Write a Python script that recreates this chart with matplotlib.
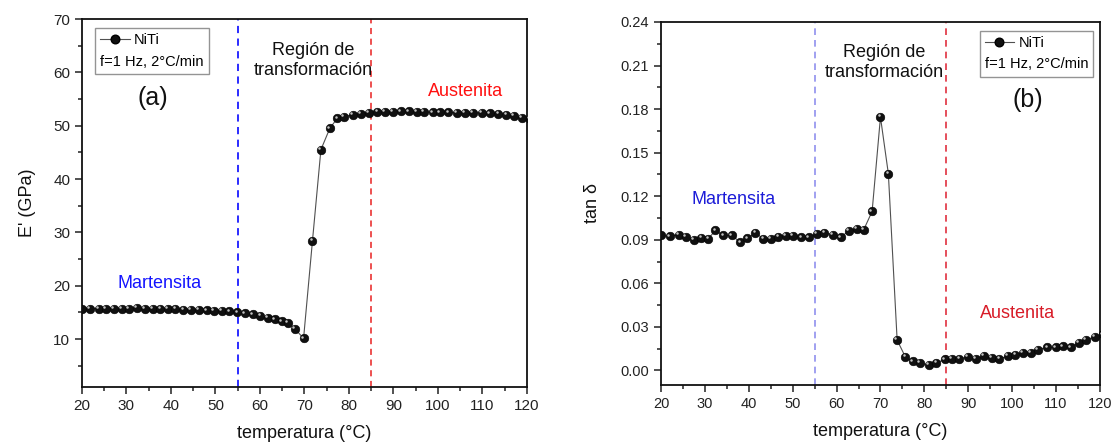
import matplotlib
matplotlib.use("Agg")
import matplotlib.pyplot as plt
from matplotlib.lines import Line2D
from matplotlib.ticker import MultipleLocator, FormatStrFormatter
from matplotlib.transforms import ScaledTranslation

plt.rcParams['font.family'] = ['Liberation Sans', 'DejaVu Sans']

# ---------------- data ----------------
temp_E = [20.0, 21.8, 23.8, 25.4, 27.1, 28.9, 30.6, 32.4, 34.2, 35.9,
          37.6, 39.3, 41.0, 42.8, 44.5, 46.2, 48.0, 49.7, 51.5, 53.1,
          54.9, 56.6, 58.4, 60.1, 61.7, 63.4, 64.9, 66.3, 67.9, 69.8,
          71.8, 73.7, 75.7, 77.4, 78.9, 80.8, 82.7, 84.5, 86.4, 88.1,
          89.8, 91.6, 93.5, 95.2, 96.9, 98.8, 100.4, 102.3, 104.2, 106.1,
          107.9, 109.8, 111.7, 113.6, 115.4, 117.1, 118.8, 120.6]
E_gpa = [15.6, 15.7, 15.7, 15.7, 15.7, 15.7, 15.7, 15.8, 15.7, 15.7,
         15.7, 15.6, 15.6, 15.5, 15.5, 15.5, 15.4, 15.3, 15.3, 15.2,
         15.0, 14.8, 14.6, 14.3, 14.0, 13.7, 13.3, 13.0, 11.9, 10.1,
         28.4, 45.5, 49.5, 51.4, 51.7, 52.0, 52.2, 52.4, 52.6, 52.6,
         52.6, 52.7, 52.7, 52.6, 52.6, 52.5, 52.5, 52.5, 52.4, 52.4,
         52.4, 52.4, 52.3, 52.2, 52.0, 51.8, 51.5, 51.3]

temp_tan = [20.0, 22.0, 24.1, 25.6, 27.5, 29.2, 30.8, 32.4, 34.2, 36.1,
            38.1, 39.7, 41.5, 43.3, 45.1, 46.7, 48.4, 50.1, 52.0, 53.7,
            55.5, 57.2, 59.1, 61.0, 62.8, 64.6, 66.2, 68.1, 70.0, 71.8,
            73.8, 75.7, 77.4, 79.0, 81.0, 82.7, 84.7, 86.3, 88.0, 89.9,
            91.7, 93.5, 95.3, 97.1, 99.0, 100.7, 102.5, 104.3, 105.9, 108.0,
            110.0, 111.6, 113.3, 115.2, 116.8, 118.8, 120.6]
tan_delta = [0.0930, 0.0924, 0.0936, 0.0920, 0.0901, 0.0913, 0.0908, 0.0965, 0.0930, 0.0930,
             0.0883, 0.0910, 0.0947, 0.0908, 0.0908, 0.0920, 0.0929, 0.0929, 0.0918, 0.0918,
             0.0940, 0.0947, 0.0936, 0.0918, 0.0963, 0.0975, 0.0970, 0.1096, 0.1745, 0.1355,
             0.0209, 0.0092, 0.0064, 0.0053, 0.0037, 0.0053, 0.0076, 0.0080, 0.0080, 0.0092,
             0.0080, 0.0099, 0.0087, 0.0080, 0.0099, 0.0110, 0.0122, 0.0122, 0.0144, 0.0160,
             0.0160, 0.0167, 0.0160, 0.0190, 0.0209, 0.0232, 0.0250]

x_ticks = [20, 30, 40, 50, 60, 70, 80, 90, 100, 110, 120]
E_ticks = [10, 20, 30, 40, 50, 60, 70]
tan_ticks = [0.00, 0.03, 0.06, 0.09, 0.12, 0.15, 0.18, 0.21, 0.24]
region_bounds = [55, 85]
series_label = "NiTi"
cond_label = "f=1 Hz, 2°C/min"

# ---------------- figure ----------------
fig = plt.figure(figsize=(11.15, 4.45), dpi=100)
fig.patch.set_facecolor('white')
axL = fig.add_axes([0.0735, 0.1303, 0.3991, 0.8270])
axR = fig.add_axes([0.5928, 0.1348, 0.3937, 0.8158])

BALL = '#101010'
LINE = '#505050'
MS = 6.2


def draw_series(ax, x, y):
    ax.plot(x, y, '-', color=LINE, lw=0.8, zorder=3)
    ax.plot(x, y, 'o', ms=MS, mfc=BALL, mec='#000000', mew=0.4, zorder=4)
    hl = ax.transData + ScaledTranslation(-1.2 / 72, 1.2 / 72, fig.dpi_scale_trans)
    ax.plot(x, y, 'o', ms=1.8, mfc='#d8d8d8', mec='none', alpha=0.9,
            transform=hl, zorder=5)


def style_axes(ax, lsize):
    for s in ax.spines.values():
        s.set_linewidth(1.3)
        s.set_color('#111111')
    ax.tick_params(which='both', direction='out', top=False, right=False,
                   labelsize=lsize, labelcolor='#222222', width=1.1, color='#222222')
    ax.tick_params(which='major', length=5)
    ax.tick_params(which='minor', length=3)
    ax.set_xlim(20, 120)
    ax.set_xticks(x_ticks)
    ax.xaxis.set_minor_locator(MultipleLocator(5))
    ax.set_xlabel('temperatura (°C)', fontsize=13, labelpad=9, color='#111111')


def make_legend(ax, loc, anchor):
    h = Line2D([], [], color=LINE, lw=0.8, marker='o', ms=MS, mfc=BALL, mec='#000000')
    leg = ax.legend([h], [series_label], title=cond_label, loc=loc,
                    bbox_to_anchor=anchor, fontsize=10.5, title_fontsize=10.5,
                    frameon=True, fancybox=False, edgecolor='#7a7a7a',
                    handlelength=2.0, handletextpad=0.3, borderpad=0.35,
                    borderaxespad=0.0)
    leg.get_frame().set_linewidth(1.0)
    leg._legend_box._children = leg._legend_box._children[::-1]
    leg.set_alignment('left')
    return leg


# ---------------- left panel ----------------
draw_series(axL, temp_E, E_gpa)
style_axes(axL, 11)
axL.set_ylim(1, 70)
axL.set_yticks(E_ticks)
axL.yaxis.set_minor_locator(MultipleLocator(5))
axL.set_ylabel("E' (GPa)", fontsize=13, labelpad=12, color='#111111')
axL.axvline(region_bounds[0], color='#1a1aff', ls=(0, (4, 3)), lw=1.3, zorder=2)
axL.axvline(region_bounds[1], color='#e82020', ls=(0, (4, 3)), lw=1.1, zorder=2)
axL.text(71.9, 62.2, 'Región de\ntransformación', ha='center', va='center',
         fontsize=13, color='#111111', linespacing=1.25)
axL.text(36.0, 55.2, '(a)', ha='center', va='center', fontsize=18, color='#111111')
axL.text(37.5, 20.5, 'Martensita', ha='center', va='center', fontsize=13, color='#1414ff')
axL.text(106.1, 56.4, 'Austenita', ha='center', va='center', fontsize=13, color='#ff1010')
make_legend(axL, 'upper left', (0.03, 0.975))

# ---------------- right panel ----------------
draw_series(axR, temp_tan, tan_delta)
style_axes(axR, 10.5)
axR.set_ylim(-0.01, 0.24)
axR.set_yticks(tan_ticks)
axR.yaxis.set_major_formatter(FormatStrFormatter('%.2f'))
axR.yaxis.set_minor_locator(MultipleLocator(0.015))
axR.set_ylabel('tan δ', fontsize=13, labelpad=14, color='#111111')
axR.axvline(region_bounds[0], color='#9090ee', ls=(0, (4, 3)), lw=1.2, zorder=2)
axR.axvline(region_bounds[1], color='#e03040', ls=(0, (4, 3)), lw=1.2, zorder=2)
axR.text(70.9, 0.2122, 'Región de\ntransformación', ha='center', va='center',
         fontsize=13, color='#111111', linespacing=1.25)
axR.text(103.6, 0.1864, '(b)', ha='center', va='center', fontsize=18, color='#111111')
axR.text(36.5, 0.1176, 'Martensita', ha='center', va='center', fontsize=13, color='#1c1cd8')
axR.text(101.2, 0.0392, 'Austenita', ha='center', va='center', fontsize=13, color='#d81c28')
make_legend(axR, 'upper right', (0.985, 0.975))

fig.savefig('out.png', dpi=100, facecolor='white')
